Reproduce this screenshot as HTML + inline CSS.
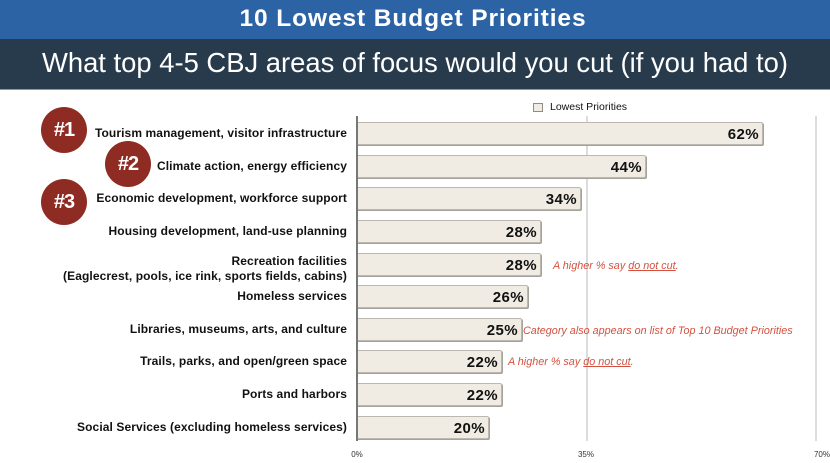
<!DOCTYPE html>
<html><head><meta charset="utf-8">
<style>
*{margin:0;padding:0;box-sizing:border-box}
body{width:830px;height:463px;overflow:hidden;background:#fff;position:relative;font-family:"Liberation Sans",sans-serif}
.band1{position:absolute;left:0;top:0;width:830px;height:39px;background:#2c63a5}
.band2{position:absolute;left:0;top:39px;width:830px;height:51px;background:#283b4d;border-bottom:1px solid #8d9aa6}
.title{position:absolute;left:0;top:5px;width:826px;text-align:center;color:#fff;font-weight:bold;font-size:24.5px;letter-spacing:0.9px;line-height:28px}
.sub{position:absolute;left:0;top:45px;width:830px;text-align:center;color:#fff;font-size:27.4px;line-height:36px}
.lab{position:absolute;right:483px;font-weight:bold;font-size:12px;letter-spacing:0.1px;color:#111;text-align:right;white-space:nowrap;line-height:15px}
.bar{position:absolute;left:357px;height:23px;background:#f0ece3;border:1px solid #bcb8af;border-left:none;border-radius:0 2px 2px 0;box-shadow:1px 1px 0 #a5a29c}
.val{position:absolute;right:3px;top:2px;font-weight:bold;font-size:15px;letter-spacing:0.4px;color:#111;line-height:19px}
.circ{position:absolute;width:46px;height:46px;border-radius:50%;background:#8e2b23;color:#fff;font-weight:bold;font-size:20px;line-height:46px;text-align:center;letter-spacing:-1px}
.note{position:absolute;font-style:italic;font-size:10.8px;color:#d4513f;white-space:nowrap;line-height:12px}
.note u{text-decoration:underline}
.tick{position:absolute;top:450px;font-size:8px;color:#333;width:40px;text-align:center}
</style></head><body>
<div class="band1"></div>
<div class="band2"></div>
<div class="title">10 Lowest Budget Priorities</div>
<div class="sub">What top 4-5 CBJ areas of focus would you cut (if you had to)</div>

<!-- legend -->
<div style="position:absolute;left:533px;top:103px;width:10px;height:9px;background:#f0ece3;border:1px solid #8f8c86"></div>
<div style="position:absolute;left:550px;top:101px;font-size:10.5px;color:#111;line-height:13px">Lowest Priorities</div>

<!-- grid -->
<div style="position:absolute;left:586px;top:116px;width:2px;height:325px;background:#dcdcdc"></div>
<div style="position:absolute;left:815px;top:116px;width:2px;height:325px;background:#dcdcdc"></div>

<!-- bars -->
<div class="bar" style="top:122px;width:406px"><span class="val">62%</span></div>
<div class="bar" style="top:155px;width:289px"><span class="val">44%</span></div>
<div class="bar" style="top:187px;width:224px"><span class="val">34%</span></div>
<div class="bar" style="top:220px;width:184px"><span class="val">28%</span></div>
<div class="bar" style="top:253px;width:184px"><span class="val">28%</span></div>
<div class="bar" style="top:285px;width:171px"><span class="val">26%</span></div>
<div class="bar" style="top:318px;width:165px"><span class="val">25%</span></div>
<div class="bar" style="top:350px;width:145px"><span class="val">22%</span></div>
<div class="bar" style="top:383px;width:145px"><span class="val">22%</span></div>
<div class="bar" style="top:416px;width:132px"><span class="val">20%</span></div>

<!-- axis -->
<div style="position:absolute;left:356px;top:116px;width:2px;height:325px;background:#777"></div>

<!-- labels -->
<div class="lab" style="top:126px">Tourism management, visitor infrastructure</div>
<div class="lab" style="top:159px">Climate action, energy efficiency</div>
<div class="lab" style="top:191px">Economic development, workforce support</div>
<div class="lab" style="top:224px">Housing development, land-use planning</div>
<div class="lab" style="top:254px">Recreation facilities<br>(Eaglecrest, pools, ice rink, sports fields, cabins)</div>
<div class="lab" style="top:289px">Homeless services</div>
<div class="lab" style="top:322px">Libraries, museums, arts, and culture</div>
<div class="lab" style="top:354px">Trails, parks, and open/green space</div>
<div class="lab" style="top:387px">Ports and harbors</div>
<div class="lab" style="top:420px">Social Services (excluding homeless services)</div>

<!-- circles -->
<div class="circ" style="left:41px;top:107px">#1</div>
<div class="circ" style="left:105px;top:141px">#2</div>
<div class="circ" style="left:41px;top:179px">#3</div>

<!-- notes -->
<div class="note" style="left:553px;top:260px">A higher % say <u>do not cut</u>.</div>
<div class="note" style="left:523px;top:325px">Category also appears on list of Top 10 Budget Priorities</div>
<div class="note" style="left:508px;top:356px">A higher % say <u>do not cut</u>.</div>

<!-- ticks -->
<div class="tick" style="left:337px">0%</div>
<div class="tick" style="left:566px">35%</div>
<div class="tick" style="left:802px">70%</div>
</body></html>
